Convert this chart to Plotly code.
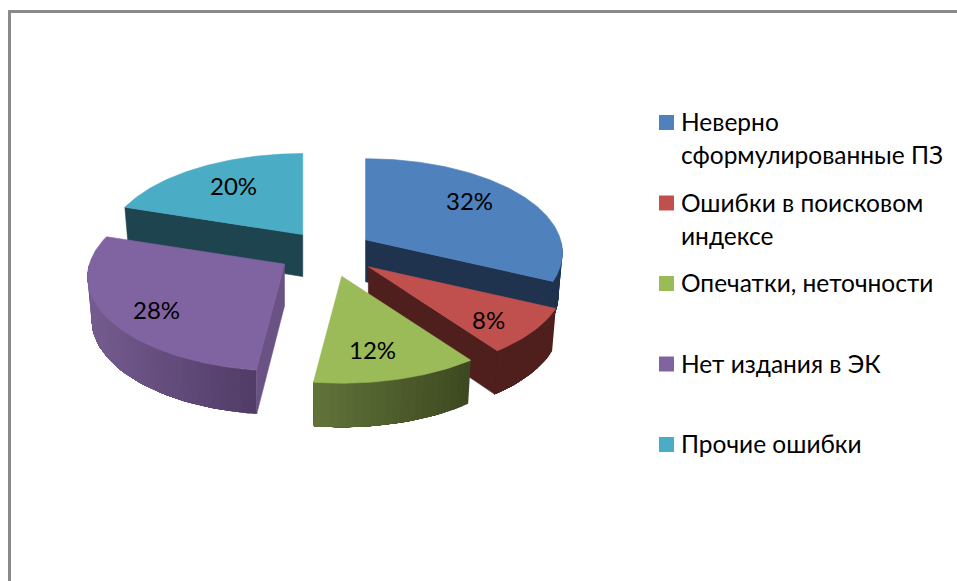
import math
import plotly.graph_objects as go

# ---- data -------------------------------------------------------------
categories = ["Неверно сформулированные ПЗ", "Ошибки в поисковом индексе",
              "Опечатки, неточности", "Нет издания в ЭК", "Прочие ошибки"]
legend_lines = [["Неверно", "сформулированные ПЗ"], ["Ошибки в поисковом", "индексе"],
                ["Опечатки, неточности"], ["Нет издания в ЭК"], ["Прочие ошибки"]]
values = [32, 8, 12, 28, 20]

# ---- styles -----------------------------------------------------------
top_colors = ["#4f81bd", "#c0504d", "#9bbb59", "#8064a2", "#4bacc6"]
cut_colors = ["#1f324e", "#4f1f1e", "#3c4a20", "#6a5285", "#1e444f"]
wall_left = ["#1f324e", "#4f1f1e", "#62733a", "#755c90", "#1e444f"]
wall_right = ["#1f324e", "#4f1f1e", "#3c4920", "#503c66", "#1e444f"]
draw_order = [4, 0, 1, 3, 2]
label_frac = [(0.68, 0.85), (0.73, 0.82), (0.55, 0.71), (0.72, 0.86), (0.67, 0.73)]

# ---- projection of the tilted, exploded disc --------------------------
CX, CY = 328.0, 251.0
RX, RY = 195.0, 92.2
PERSP = 0.138
PULL = 0.245
DEPTH = 42.0
BOTTOM_SHRINK = 0.98
LEGEND_MARK_X, LEGEND_TEXT_X, LEGEND_TOP, LEGEND_STEP, LEGEND_LINE = 666.5, 678.5, 122.5, 80.5, 33


def project(a, f=1.0):
    """Pie angle in degrees clockwise from the top -> offsets on the axes."""
    X, Y = math.sin(math.radians(a)), -math.cos(math.radians(a))
    s = 1 / (1 - PERSP * Y)
    return RX * X * s * f, RY * Y * s * f, Y


def hexmix(c1, c2, t):
    a = [int(c1[i:i + 2], 16) for i in (1, 3, 5)]
    b = [int(c2[i:i + 2], 16) for i in (1, 3, 5)]
    return "#%02x%02x%02x" % tuple(round(p + (q - p) * t) for p, q in zip(a, b))


def poly(xs, ys, color, width=0.6):
    return go.Scatter(x=xs, y=ys, mode="lines", fill="toself", fillcolor=color,
                      line=dict(color=color, width=width), hoverinfo="skip", showlegend=False)


fig = go.Figure()
total = sum(values)
starts, acc = [], 0
for v in values:
    starts.append(acc / total * 360)
    acc += v

annotations = []
for i in draw_order:
    a0 = starts[i]
    a1 = a0 + values[i] / total * 360
    mid = (a0 + a1) / 2
    px, py, _ = project(mid, PULL)
    ax, ay = CX + px, CY + py

    def top(a):
        dx, dy, _ = project(a)
        return ax + dx, ay + dy

    def bottom(a):
        dx, dy, Y = project(a)
        return ax + dx * BOTTOM_SHRINK, ay + dy + DEPTH + 2 * Y

    apex_low = (ax, ay + DEPTH)
    n = max(12, int(a1 - a0))
    angles = [a0 + (a1 - a0) * k / n for k in range(n + 1)]

    # straight cut faces, only where they look toward the viewer
    for a, sign in ((a0, -1), (a1, 1)):
        if sign * math.sin(math.radians(a)) > 1e-6:
            t, b = top(a), bottom(a)
            fig.add_trace(poly([ax, t[0], b[0], apex_low[0], ax],
                               [ay, t[1], b[1], apex_low[1], ay], cut_colors[i]))

    # outer rim, shaded in narrow strips; each strip runs to the rim's far end
    # and is overpainted by the next, so no seams show between them
    lo, hi = max(a0, 90), min(a1, 270)
    if hi > lo:
        m = max(4, int((hi - lo) / 2))
        rim = [lo + (hi - lo) * k / m for k in range(m + 1)]
        xs = [top(a)[0] for a in rim]
        xmin, xmax = min(xs), max(xs)
        for k in range(m):
            seg = rim[k:]
            tp = [top(a) for a in seg]
            bt = [bottom(a) for a in reversed(seg)]
            t = ((xs[k] + xs[k + 1]) / 2 - xmin) / max(xmax - xmin, 1)
            fig.add_trace(poly([p[0] for p in tp + bt] + [tp[0][0]],
                               [p[1] for p in tp + bt] + [tp[0][1]],
                               hexmix(wall_left[i], wall_right[i], t), width=0))

    # top surface
    pts = [top(a) for a in angles]
    fig.add_trace(poly([ax] + [p[0] for p in pts] + [ax],
                       [ay] + [p[1] for p in pts] + [ay], top_colors[i]))

    # percentage label
    fx, fy = label_frac[i]
    lx, ly, _ = project(mid)
    annotations.append(dict(x=ax + lx * fx, y=ay + ly * fy, xref="x", yref="y",
                            text=f"{values[i]}%", showarrow=False,
                            font=dict(family="Lato", size=24, color="#000000")))

# legend: swatch on the first text line, wrapped text below it
for i, lines in enumerate(legend_lines):
    y0 = LEGEND_TOP + i * LEGEND_STEP
    fig.add_trace(go.Scatter(x=[LEGEND_MARK_X], y=[y0], mode="markers", name=categories[i],
                             hoverinfo="skip", showlegend=False,
                             marker=dict(symbol="square", size=15, color=top_colors[i])))
    for j, line in enumerate(lines):
        annotations.append(dict(x=LEGEND_TEXT_X, y=y0 - 1 + j * LEGEND_LINE, xref="x", yref="y",
                                xanchor="left", yanchor="middle", text=line, showarrow=False,
                                font=dict(family="Lato", size=24.5, color="#000000")))

fig.update_layout(
    width=957, height=581, margin=dict(l=0, r=0, t=0, b=0),
    paper_bgcolor="white", plot_bgcolor="white",
    xaxis=dict(range=[0, 957], visible=False, fixedrange=True),
    yaxis=dict(range=[581, 0], visible=False, fixedrange=True),
    annotations=annotations,
    shapes=[dict(type="rect", xref="x", yref="y", x0=9.5, y0=11.5, x1=1100, y1=800,
                 line=dict(color="#8a8a8a", width=3), layer="below")],
    showlegend=False,
)
fig.write_html("out.html", config={"displayModeBar": False},
               post_script="document.body.style.margin='0';document.body.style.overflow='hidden';")
